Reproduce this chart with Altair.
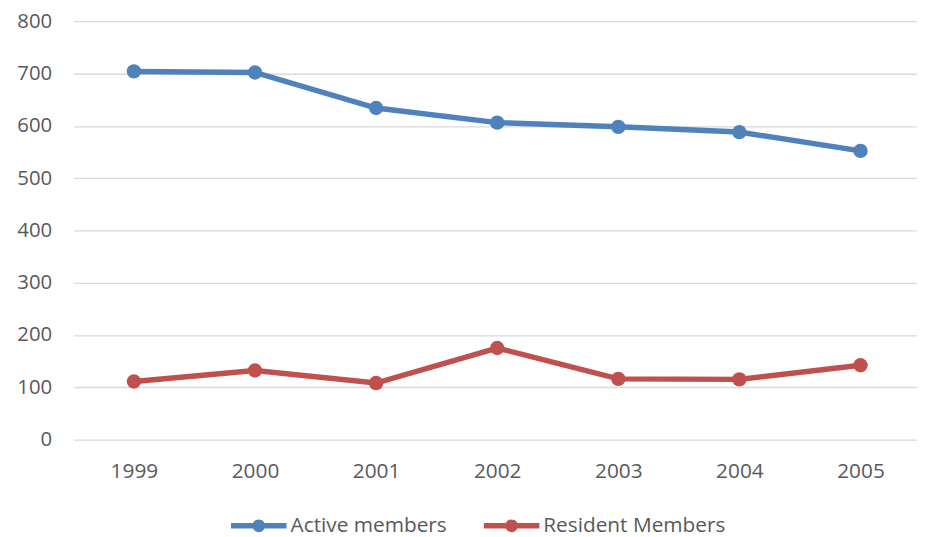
import altair as alt
import pandas as pd

years = ["1999", "2000", "2001", "2002", "2003", "2004", "2005"]
active = [704, 702, 634, 606, 598, 588, 552]
resident = [111, 132, 108, 175, 116, 115, 142]
series_names = ["Active members", "Resident Members"]
colors = ["#4F81BD", "#C0504D"]
y_ticks = [0, 100, 200, 300, 400, 500, 600, 700, 800]

rows = []
for yr, a, r in zip(years, active, resident):
    rows.append({"year": yr, "series": series_names[0], "value": a})
    rows.append({"year": yr, "series": series_names[1], "value": r})
df = pd.DataFrame(rows)

font = "Open Sans"
text_color = "#595959"

x = alt.X(
    "year:N", title=None, sort=years,
    scale=alt.Scale(type="point", padding=0.483, align=0.517),
    axis=alt.Axis(labelAngle=0, ticks=False, domain=False, grid=False,
                  labelPadding=21, labelFontSize=21, labelColor=text_color,
                  labelFont=font),
)
y = alt.Y(
    "value:Q", title=None,
    scale=alt.Scale(domain=[0, 800], nice=False),
    axis=alt.Axis(values=y_ticks, ticks=False, domain=False,
                  gridColor="#D9D9D9", gridWidth=1.3, labelPadding=22,
                  labelFontSize=20.5, labelColor=text_color, labelFont=font),
)

symbol_path = ("M-1,-0.1 L1,-0.1 L1,0.1 L-1,0.1 Z "
               "M0.23,0 A0.23,0.23 0 1 1 -0.23,0 A0.23,0.23 0 1 1 0.23,0 Z")

color = alt.Color(
    "series:N", sort=series_names,
    scale=alt.Scale(domain=series_names, range=colors),
    legend=alt.Legend(
        title=None, orient="none", direction="horizontal",
        legendX=159, legendY=481,
        symbolType=symbol_path, symbolSize=3136, symbolStrokeWidth=0,
        symbolOpacity=1, labelLimit=400,
        labelFontSize=21, labelFont=font,
        labelColor=text_color, labelOffset=4, columnPadding=37,
    ),
)

base = alt.Chart(df)

line = base.mark_line(strokeWidth=5.5).encode(x=x, y=y, color=color)
points = base.mark_point(filled=True, size=210, opacity=1).encode(
    x=x, y=y, color=color
)

chart = (line + points).properties(
    width=851, height=422,
    padding={"left": 66, "top": 11, "right": 0, "bottom": 96},
    autosize=alt.AutoSizeParams(type="none"),
).configure_view(stroke=None)

chart.save("out.html", embed_options={"renderer": "svg", "actions": False})
